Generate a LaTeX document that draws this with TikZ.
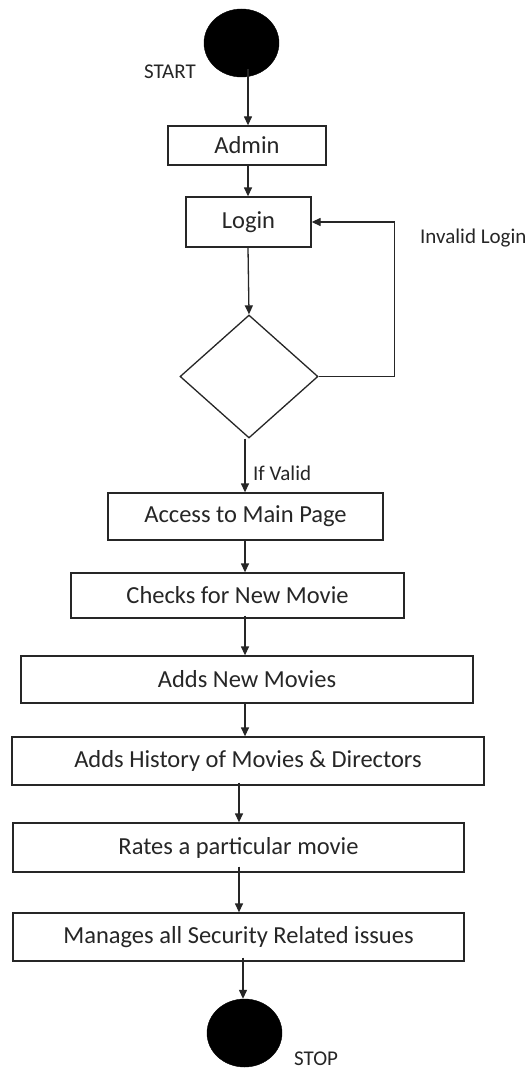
\documentclass[tikz,border=0pt]{standalone}
\usepackage{fontspec}
\setmainfont{Carlito}
\usetikzlibrary{shapes.geometric,arrows.meta}
\tikzset{
  stepbox/.style={draw=black!85, line width=1.3pt, fill=white, inner sep=0pt,
    font=\fontsize{24.5}{28}\selectfont, text=black!85},
  terminal/.style={ellipse, fill=black, draw=black, inner sep=0pt,
    minimum width=75pt, minimum height=68pt},
  decision/.style={diamond, draw=black!85, line width=1.3pt, inner sep=0pt, aspect=1.12,
    minimum width=138pt, minimum height=123pt},
  flow/.style={draw=black!85, line width=1.3pt, -{Triangle[length=9pt,width=8pt]}},
  note/.style={font=\fontsize{21}{24}\selectfont, text=black!85, inner sep=0pt}
}
\begin{document}
\begin{tikzpicture}[x=1pt,y=-1pt]
\useasboundingbox[fill=white] (0,0) rectangle (530,1070);

% terminals
\node[terminal] (start) at (241.5,43) {};
\node[terminal] (stop) at (244.5,1033) {};
\node[note, anchor=east] (startlbl) at (196,72) {START};
\node[note, anchor=west] (stoplbl) at (294,1059) {STOP};

% activity boxes
\node[stepbox, minimum width=158pt, minimum height=39pt] (admin) at (247,145.5) {Admin};
\node[stepbox, minimum width=125pt, minimum height=50pt] (login) at (248.5,222) {Login};
\node[decision] (check) at (249,376.5) {};
\node[stepbox, minimum width=275pt, minimum height=47pt] (access) at (245.5,516.5) {Access to Main Page};
\node[stepbox, minimum width=333pt, minimum height=45pt] (newmovie) at (237.5,595.5) {Checks for New Movie};
\node[stepbox, minimum width=452pt, minimum height=47pt] (adds) at (247,679.5) {Adds New Movies};
\node[stepbox, minimum width=472pt, minimum height=48pt] (history) at (248,761) {Adds History of Movies \& Directors};
\node[stepbox, minimum width=451pt, minimum height=49pt] (rates) at (238.5,847.5) {Rates a particular movie};
\node[stepbox, minimum width=451pt, minimum height=48pt] (security) at (238.5,937) {Manages all Security Related issues};

% loop-back label and valid label
\node[note, anchor=west] (invalid) at (420,238) {Invalid Login};
\node[note, anchor=west] (valid) at (253,473) {If Valid};

% connectors
\coordinate (c1) at (248,0);
\coordinate (c2) at (245,0);
\coordinate (c3) at (239,0);
\coordinate (c4) at (243,0);
\draw[flow] ([yshift=8pt]start.south -| c1) -- (admin.north -| c1);
\draw[flow] (admin.south -| c1) -- (login.north -| c1);
\draw[flow] (login.south -| c1) -- (check.north);
\draw[flow] (check.south -| c2) -- (access.north -| c2);
\draw[flow] (access.south -| c2) -- (newmovie.north -| c2);
\draw[flow] ([yshift=3pt]newmovie.south -| c2) -- (adds.north -| c2);
\draw[flow] (adds.south -| c2) -- (history.north -| c2);
\draw[flow] ([yshift=3pt]history.south -| c3) -- (rates.north -| c3);
\draw[flow] ([yshift=6pt]rates.south -| c3) -- (security.north -| c3);
\draw[flow] ([yshift=4pt]security.south -| c4) -- (stop.north -| c4);
\draw[flow] (check.east) -- ++(76,0) |- (login.east);
\end{tikzpicture}
\end{document}
